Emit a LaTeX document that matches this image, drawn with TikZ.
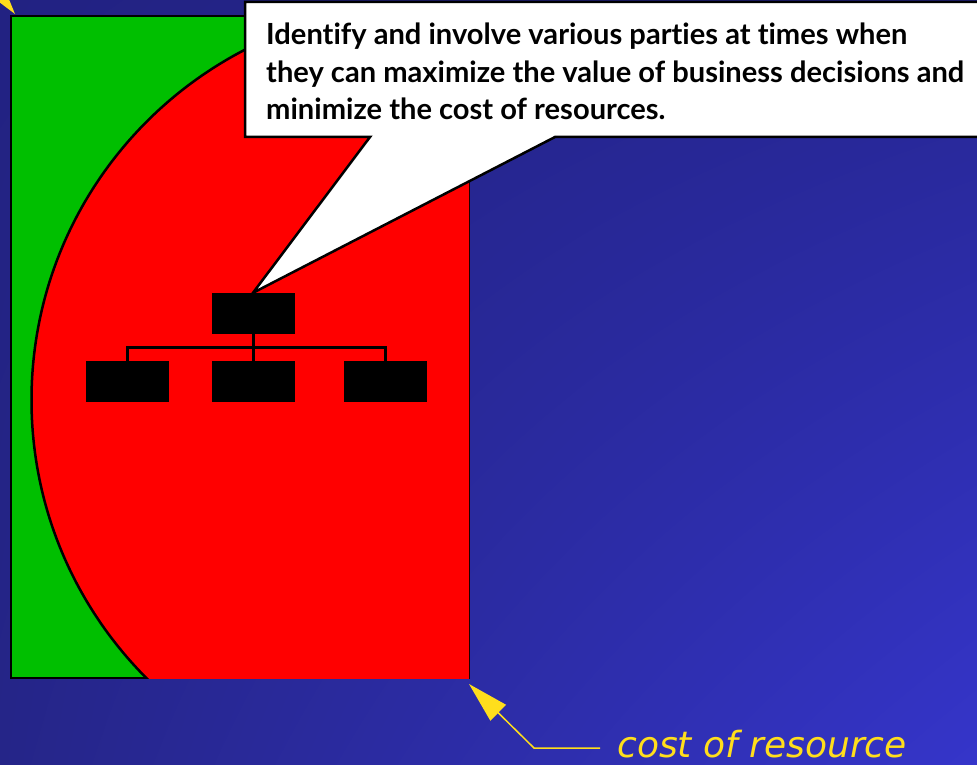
\documentclass[tikz,border=0pt]{standalone}
\usepackage{fontspec}
\usetikzlibrary{arrows.meta,shadings}
\newfontfamily\callfont[Ligatures=NoCommon]{Lato}
\newfontfamily\resfont{DejaVu Sans}
\definecolor{bgA}{HTML}{222282}
\definecolor{bgB}{HTML}{262692}
\definecolor{bgC}{HTML}{252588}
\definecolor{bgD}{HTML}{3535CA}
\definecolor{grn}{HTML}{00BF00}
\definecolor{yel}{HTML}{FFDE1C}
\tikzset{
  orgbox/.style={rectangle, fill=black, draw=black, minimum width=82pt, minimum height=40pt, inner sep=0pt},
  orgline/.style={draw=black, line width=3pt},
  outline/.style={draw=black, line width=2.5pt},
  calltext/.style={font=\callfont\bfseries\fontsize{29.1}{37.5}\selectfont, align=left, inner sep=0pt, text=black},
  restext/.style={font=\resfont\itshape\fontsize{36}{40}\selectfont, inner sep=0pt, text=yel},
  yarrow/.style={draw=yel, line width=1.5pt, -{Triangle[length=41pt,width=22pt]}}
}
\begin{document}
\begin{tikzpicture}[x=1pt,y=-1pt]
\useasboundingbox (0,0) rectangle (977,765);
\shade[upper left=bgA, upper right=bgB, lower left=bgC, lower right=bgD] (0,0) rectangle (977,765);
% top-left arrow head (cut off)
\begin{scope}
\clip (0,0) rectangle (977,765);
\fill[yel] (15,14) -- (-0.7,-24.4) -- (-18.1,-11) -- cycle;
\end{scope}
% green rectangle
\filldraw[fill=grn, outline] (11,16) rectangle (469,678);
% red disc
\begin{scope}
\clip (0,0) rectangle (469,678);
\filldraw[fill=red, outline] (425.5,400) circle[radius=394];
\end{scope}
% org chart
\node[orgbox] (top) at (253,313) {};
\node[orgbox] (b1) at (127,381) {};
\node[orgbox] (b2) at (253,381) {};
\node[orgbox] (b3) at (385,381) {};
\coordinate (bar) at (253,347);
\draw[orgline] (top.south) -- (b2.north);
\draw[orgline] (b1.north) |- (bar) -| (b3.north);
% callout
\filldraw[fill=white, outline, line join=miter] (245,2) -- (985,2) -- (985,137) -- (555,137) -- (top.north) -- (370,137) -- (245,137) -- cycle;
\node[calltext, anchor=base west] (txt) at (266,120) {Identify and involve various parties at times when\\they can maximize the value of business decisions and\\minimize the cost of resources.};
% cost of resource
\node[restext, anchor=base west] (res) at (617,757) {cost of resource};
\coordinate (corner) at (534,748);
\coordinate (tip) at (469,684);
\draw[yarrow] (600,748) -- (corner) -- (tip);
\end{tikzpicture}
\end{document}
